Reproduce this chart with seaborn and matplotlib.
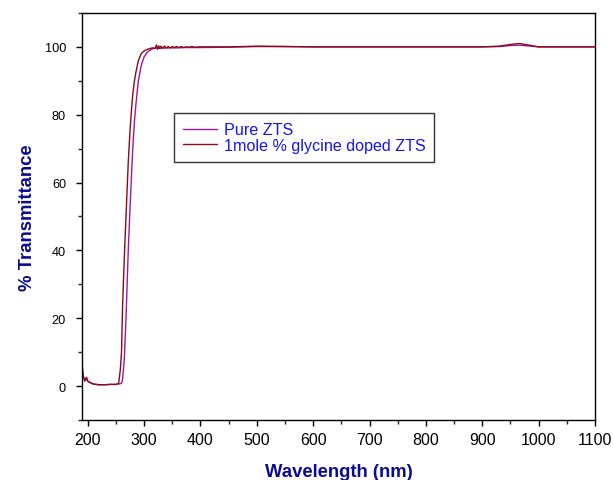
import matplotlib
matplotlib.use("Agg")
import matplotlib.pyplot as plt
import seaborn as sns
import pandas as pd
from matplotlib.ticker import MultipleLocator

# ---- data ----
wl_pure = [190, 192, 195, 198, 200, 205, 210, 220, 230, 240, 250, 255, 260, 262,
           265, 268, 270, 272, 275, 278, 280, 283, 285, 288, 290, 295, 300, 305,
           310, 315, 320, 330, 340, 350, 360, 370, 380, 390, 400, 450, 500, 550,
           600, 700, 800, 900, 930, 950, 965, 980, 1000, 1050, 1100]
t_pure = [6.0, 3.0, 1.6, 2.4, 1.4, 1.0, 0.6, 0.4, 0.4, 0.5, 0.5, 0.6, 0.8, 2.0,
          8.0, 20.0, 30.0, 40.0, 52.0, 63.0, 70.0, 78.0, 82.0, 87.0, 90.0, 94.5, 97.0, 98.3,
          99.0, 99.4, 99.6, 99.6, 99.7, 99.7, 99.7, 99.8, 99.8, 99.8, 99.8, 99.9, 100.1, 100.1,
          100.0, 100.0, 100.0, 100.0, 100.1, 100.4, 100.5, 100.3, 100.0, 100.0, 100.0]

wl_doped = [190, 192, 195, 198, 200, 205, 210, 220, 230, 240, 250, 255, 258, 260,
            262, 265, 268, 270, 272, 275, 278, 280, 283, 285, 288, 290, 295, 300,
            305, 310, 315, 320, 322, 324, 326, 328, 330, 333, 336, 340, 343, 346,
            350, 354, 358, 362, 366, 370, 375, 380, 385, 390, 400, 450, 500, 550,
            600, 700, 800, 900, 930, 950, 965, 980, 1000, 1050, 1100]
t_doped = [6.5, 3.0, 1.5, 2.6, 1.5, 1.0, 0.6, 0.4, 0.4, 0.5, 0.5, 0.8, 5.0, 10.0,
           24.0, 38.0, 50.0, 58.0, 66.0, 75.0, 82.0, 86.0, 90.0, 92.0, 94.5, 96.0, 98.0, 98.8,
           99.2, 99.5, 99.7, 99.6, 100.6, 99.3, 100.3, 99.5, 100.2, 99.6, 100.2, 99.7, 100.1, 99.7,
           100.1, 99.8, 100.1, 99.8, 100.1, 99.8, 100.0, 99.9, 100.1, 99.9, 100.0, 100.0, 100.2, 100.1,
           100.0, 100.0, 100.0, 100.0, 100.2, 100.7, 101.0, 100.6, 100.0, 100.0, 100.0]

labels = ["Pure ZTS", "1mole % glycine doped ZTS"]
colors = ["#99199F", "#8B0A14"]

x_ticks = list(range(200, 1101, 100))
y_ticks = list(range(0, 101, 20))

sns.set_style("ticks")
plt.rcParams["font.family"] = ["Liberation Sans", "DejaVu Sans"]

fig = plt.figure(figsize=(6.14, 4.81), dpi=100)
ax = fig.add_axes([0.1336, 0.1247, 0.8355, 0.8463])

df_p = pd.DataFrame({"wl": wl_pure, "t": t_pure})
df_d = pd.DataFrame({"wl": wl_doped, "t": t_doped})
sns.lineplot(data=df_p, x="wl", y="t", ax=ax, color=colors[0], lw=1.0, label=labels[0])
sns.lineplot(data=df_d, x="wl", y="t", ax=ax, color=colors[1], lw=1.0, label=labels[1])

ax.set_xlim(190, 1100)
ax.set_ylim(-10, 110)
ax.set_xticks(x_ticks)
ax.set_yticks(y_ticks)
ax.xaxis.set_minor_locator(MultipleLocator(50))
ax.yaxis.set_minor_locator(MultipleLocator(10))
ax.tick_params(which="major", direction="out", length=4.5, width=1, colors="black")
ax.tick_params(which="minor", direction="out", length=3, width=1)
ax.tick_params(axis="x", which="major", labelsize=11.5, pad=4)
ax.tick_params(axis="y", which="major", labelsize=9.2, pad=7)
for s in ax.spines.values():
    s.set_visible(True)
    s.set_color("black")
    s.set_linewidth(1.0)

ax.set_xlabel("Wavelength (nm)", fontsize=13.3, fontweight="bold", color="#0A0A96", labelpad=12)
ax.set_ylabel("% Transmittance", fontsize=13.3, fontweight="bold", color="#0A0A96", labelpad=6)

leg = ax.legend(loc="upper left", bbox_to_anchor=(0.179, 0.753), borderaxespad=0,
                fontsize=11.6, frameon=True, fancybox=False, edgecolor="black",
                handlelength=2.1, handletextpad=0.45, borderpad=0.55, labelspacing=0.02)
leg.get_frame().set_linewidth(1.0)
for t in leg.get_texts():
    t.set_color("#1414F0")

fig.savefig("out.png", dpi=100)
